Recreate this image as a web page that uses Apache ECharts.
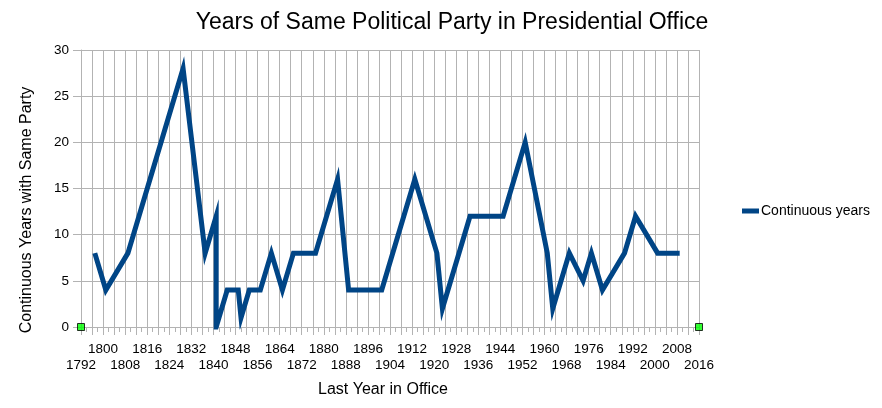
<!DOCTYPE html>
<html>
<head>
<meta charset="utf-8">
<script src="https://cdn.jsdelivr.net/npm/echarts@6/dist/echarts.min.js"></script>
<style>
html,body{margin:0;padding:0;background:#fff;}
#chart{width:882px;height:408px;}
</style>
</head>
<body>
<div id="chart"></div>
<script>
var years = [1797,1801,1809,1829,1837,1841,1841,1845,1849,1850,1853,1857,1861,1865,1869,1877,1885,1889,1901,1913,1921,1923,1933,1945,1953,1961,1963,1969,1974,1977,1981,1989,1993,2001,2009];
var continuousYears = [8,4,8,28,8,12,0,4,4,1,4,4,8,4,8,8,16,4,4,16,8,2,12,12,20,8,2,8,5,8,4,8,12,8,8];
var markerYears = [1792, 2016];
var markerValues = [0, 0];

var lineData = years.map(function(y,i){ return [y, continuousYears[i]]; });
var markerData = markerYears.map(function(y,i){ return [y, markerValues[i]]; });

var FONT = '"Liberation Sans", Arial, sans-serif';
var chart = echarts.init(document.getElementById('chart'));
chart.setOption({
  animation: false,
  backgroundColor: '#ffffff',
  title: {
    text: 'Years of Same Political Party in Presidential Office',
    left: 447, top: 6, textAlign: 'center',
    textStyle: {fontFamily: FONT, fontSize: 23, fontWeight: 'normal', color: '#000'}
  },
  legend: {
    data: ['Continuous years'],
    left: 737, top: 199,
    icon: 'rect', itemWidth: 17, itemHeight: 5,
    textStyle: {fontFamily: FONT, fontSize: 14, color: '#000', padding: [0,0,0,-3]}
  },
  graphic: [
    {
      type: 'text', x: 383, y: 390,
      style: {text: 'Last Year in Office', font: '16px "Liberation Sans", Arial, sans-serif',
              fill: '#000', textAlign: 'center', textVerticalAlign: 'middle'}
    },
    {
      type: 'text', x: 27, y: 210, rotation: Math.PI / 2,
      style: {text: 'Continuous Years with Same Party', font: '16px "Liberation Sans", Arial, sans-serif',
              fill: '#000', textAlign: 'center', textVerticalAlign: 'middle'}
    }
  ],
  grid: {left: 81, right: 183, top: 50, bottom: 81, containLabel: false},
  xAxis: {
    type: 'value', min: 1792, max: 2016, interval: 4,
    axisLine: {show: true, lineStyle: {color: '#b3b3b3', width: 1}},
    axisTick: {show: true, length: 8, lineStyle: {color: '#b3b3b3'}},
    minorTick: {show: true, splitNumber: 2, length: 5, lineStyle: {color: '#b3b3b3'}},
    splitLine: {show: true, lineStyle: {color: '#b3b3b3', width: 1}},
    axisLabel: {
      margin: 15, lineHeight: 15.5,
      fontFamily: FONT, fontSize: 13.5, color: '#000',
      formatter: function(v){
        var d = v - 1792;
        if (d % 8 !== 0) return '';
        return (d % 16 === 8) ? String(v) : '\n' + v;
      }
    }
  },
  yAxis: {
    type: 'value', min: 0, max: 30, interval: 5,
    axisLine: {show: true, lineStyle: {color: '#b3b3b3', width: 1}},
    axisTick: {show: true, length: 8, lineStyle: {color: '#b3b3b3'}},
    splitLine: {show: true, lineStyle: {color: '#b3b3b3', width: 1}},
    axisLabel: {margin: 12, fontFamily: FONT, fontSize: 13.5, color: '#000'}
  },
  series: [
    {
      name: 'Continuous years', type: 'line', data: lineData,
      showSymbol: false, symbol: 'none',
      lineStyle: {color: '#004586', width: 5, join: 'miter'},
      itemStyle: {color: '#004586'},
      z: 3
    },
    {
      name: 'markers', type: 'scatter', data: markerData,
      symbol: 'rect', symbolSize: 7,
      itemStyle: {color: '#00ff00', borderColor: '#000', borderWidth: 1},
      z: 4
    }
  ]
});
</script>
</body>
</html>
